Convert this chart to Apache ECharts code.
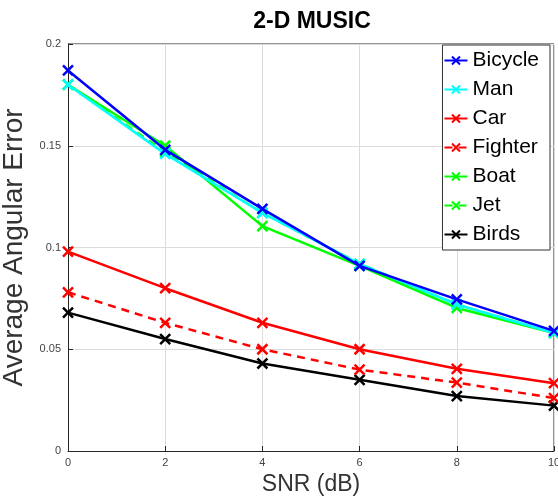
<!DOCTYPE html>
<html><head><meta charset="utf-8">
<script src="https://cdn.jsdelivr.net/npm/echarts@6/dist/echarts.min.js"></script>
<style>html,body{margin:0;padding:0;background:#fff}#c{width:558px;height:499px}</style>
</head><body><div id="c"></div>
<script>
const snr = [0, 2, 4, 6, 8, 10];
const bicycle = [0.187, 0.148, 0.119, 0.091, 0.0745, 0.059];
const man     = [0.180, 0.146, 0.117, 0.092, 0.072, 0.058];
const car     = [0.098, 0.080, 0.063, 0.050, 0.0404, 0.0333];
const fighter = [0.078, 0.063, 0.050, 0.040, 0.0336, 0.026];
const boat    = [0.180, 0.150, 0.1105, 0.091, 0.0703, 0.058];
const jet     = [0.180, 0.147, 0.117, 0.092, 0.072, 0.058];
const birds   = [0.068, 0.055, 0.043, 0.035, 0.027, 0.0223];
const names = ['Bicycle','Man','Car','Fighter','Boat','Jet','Birds'];
const colors = ['#0000ff','#00ffff','#ff0000','#ff0000','#00ff00','#00ff00','#000000'];
const dashed = [false,false,false,true,false,true,false];
const values = [bicycle, man, car, fighter, boat, jet, birds];
const xTicks = [0,2,4,6,8,10];
const yTicks = [0,0.05,0.1,0.15,0.2];
const X = 'path://M0,0L10,10M10,0L0,10';
const font = 'Liberation Sans, Arial, sans-serif';
const chart = echarts.init(document.getElementById('c'));
chart.setOption({
  animation: false,
  title: {text: '2-D MUSIC', left: 307, top: 5, textAlign: 'center',
    textStyle: {fontFamily: font, fontSize: 23, fontWeight: 'bold', color: '#000'}},
  grid: {left: 68, right: 4, top: 44, bottom: 48, outerBoundsMode: 'none', containLabel: false},
  legend: {orient: 'vertical', right: 8, top: 45, backgroundColor: '#fff',
    borderColor: '#333', borderWidth: 1, padding: [5, 11, 5, 1], itemGap: 8,
    itemWidth: 23, itemHeight: 10,
    textStyle: {fontFamily: font, fontSize: 21, color: '#000'},
    data: names},
  xAxis: {type: 'value', min: 0, max: 10, interval: 2,
    name: 'SNR (dB)', nameLocation: 'middle', nameGap: 21,
    nameTextStyle: {fontFamily: font, fontSize: 23, color: '#333'},
    axisLine: {show: true, lineStyle: {color: '#262626', width: 1}},
    axisTick: {show: true, inside: true, length: 5, lineStyle: {color: '#262626'}},
    axisLabel: {fontFamily: font, fontSize: 11, color: '#444', margin: 6,
      formatter: v => xTicks.includes(v) ? String(v) : ''},
    splitLine: {show: true, lineStyle: {color: '#dcdcdc', width: 1}}},
  yAxis: {type: 'value', min: 0, max: 0.2, interval: 0.05,
    name: 'Average Angular Error', nameLocation: 'middle', nameGap: 29,
    nameTextStyle: {fontFamily: font, fontSize: 28, color: '#333'},
    axisLine: {show: true, lineStyle: {color: '#262626', width: 1}},
    axisTick: {show: true, inside: true, length: 5, lineStyle: {color: '#262626'}},
    axisLabel: {fontFamily: font, fontSize: 11, color: '#444', margin: 7,
      formatter: v => { const t = yTicks.find(k => Math.abs(k - v) < 1e-9); return t === undefined ? '' : String(t); }},
    splitLine: {show: true, lineStyle: {color: '#dcdcdc', width: 1}}},
  series: names.map((n, i) => ({
    name: n, type: 'line', data: snr.map((x, j) => [x, values[i][j]]),
    symbol: X, symbolSize: 10, showSymbol: true,
    lineStyle: {color: colors[i], width: 2.5, type: dashed[i] ? [8, 6] : 'solid'},
    itemStyle: {color: colors[i], borderColor: colors[i], borderWidth: 2.5},
    z: 10 - i
  })),
  graphic: [
    {type: 'line', shape: {x1: 68, y1: 44, x2: 554, y2: 44}, style: {stroke: '#262626', lineWidth: 1}, z: 0},
    {type: 'line', shape: {x1: 554, y1: 44, x2: 554, y2: 451}, style: {stroke: '#262626', lineWidth: 1}, z: 0}
  ]
});
</script></body></html>
